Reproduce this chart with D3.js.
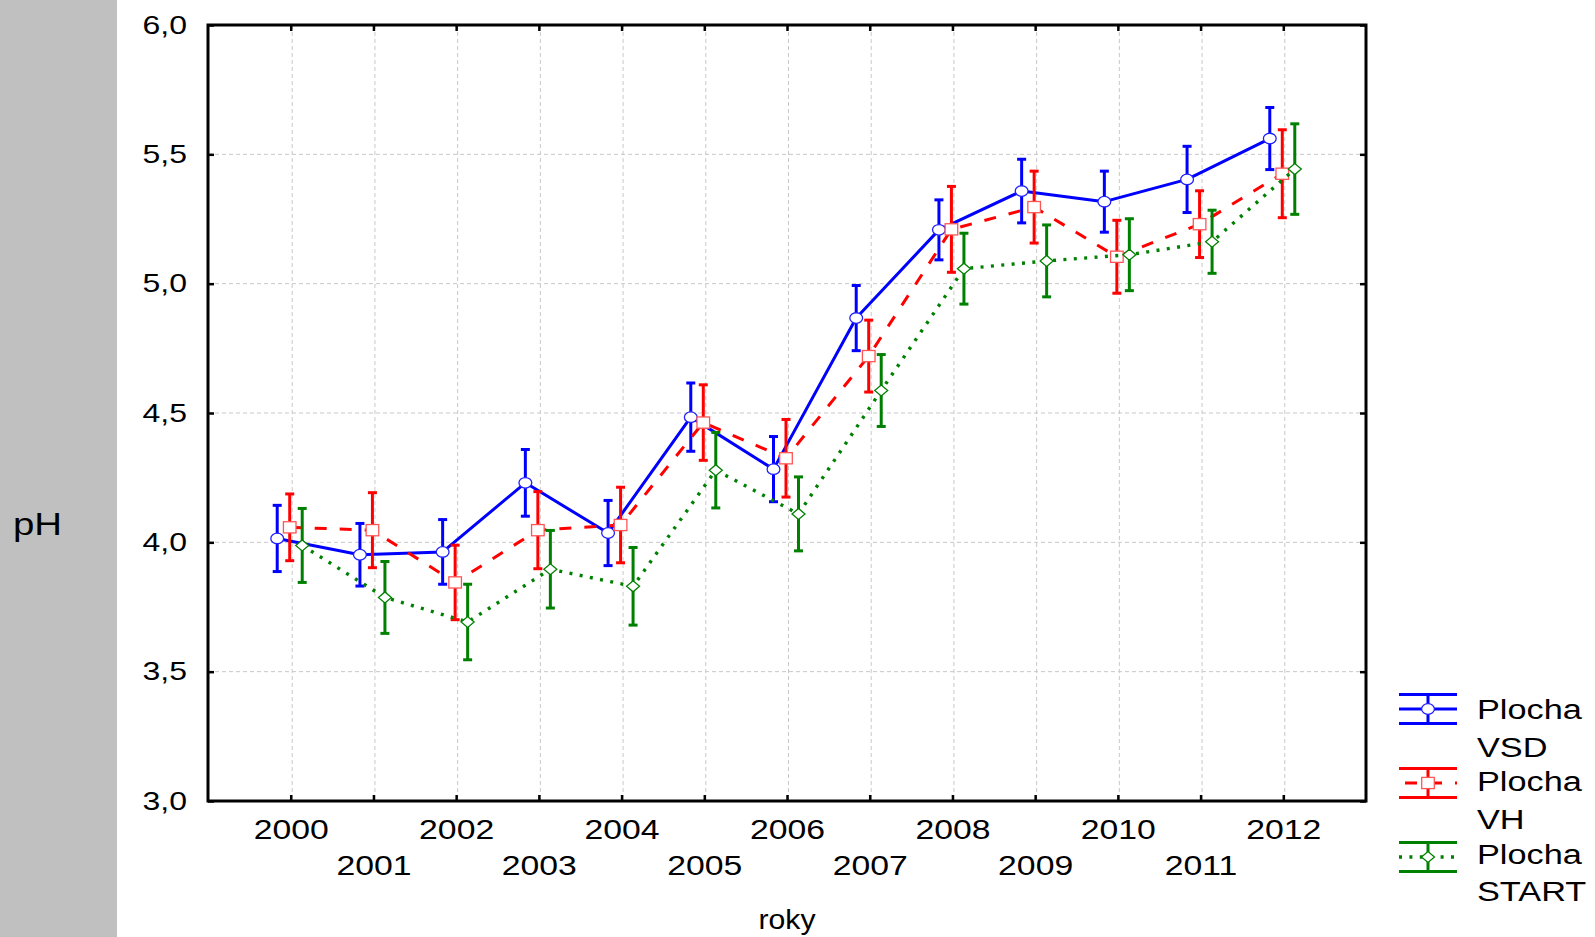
<!DOCTYPE html>
<html>
<head>
<meta charset="utf-8">
<script src="https://cdn.jsdelivr.net/npm/d3@7"></script>
<style>
  html, body { margin: 0; padding: 0; background: #fff; }
  svg { display: block; font-family: "Liberation Sans", Arial, sans-serif; }
</style>
</head>
<body>
<svg id="chart" width="1595" height="937"></svg>
<script>
// Years on the x axis
const years = [2000, 2001, 2002, 2003, 2004, 2005, 2006, 2007, 2008, 2009, 2010, 2011, 2012];

// Mean pH per plot and year, with the half-width of the error bar
const vsdMean = [4.015, 3.952, 3.963, 4.230, 4.036, 4.484, 4.283, 4.867, 5.208, 5.358, 5.317, 5.403, 5.561];
const vsdErr  = [0.128, 0.121, 0.125, 0.129, 0.126, 0.132, 0.126, 0.126, 0.116, 0.123, 0.118, 0.128, 0.120];

const vhMean  = [4.058, 4.047, 3.845, 4.047, 4.067, 4.463, 4.325, 4.720, 5.210, 5.296, 5.104, 5.230, 5.425];
const vhErr   = [0.129, 0.145, 0.144, 0.149, 0.146, 0.146, 0.150, 0.139, 0.166, 0.139, 0.141, 0.129, 0.170];

const startMean = [3.988, 3.787, 3.692, 3.896, 3.830, 4.279, 4.110, 4.587, 5.058, 5.088, 5.112, 5.162, 5.443];
const startErr  = [0.143, 0.139, 0.146, 0.150, 0.150, 0.146, 0.143, 0.139, 0.137, 0.139, 0.139, 0.122, 0.175];

const seriesNames = ["Plocha VSD", "Plocha VH", "Plocha START"];
const yTicks = [3.0, 3.5, 4.0, 4.5, 5.0, 5.5, 6.0];

const series = [
  { name: seriesNames[0], mean: vsdMean,   err: vsdErr,   color: "#0000ff", marker: "#2020ff", shift: -13.5, dash: null,      width: 3,   shape: "circle" },
  { name: seriesNames[1], mean: vhMean,    err: vhErr,    color: "#ff0000", marker: "#ff5555", shift: -1,    dash: "12,13",   width: 3,   shape: "square" },
  { name: seriesNames[2], mean: startMean, err: startErr, color: "#008000", marker: "#008000", shift: 11.5,  dash: "3,7.4",   width: 3.4, shape: "diamond" }
];

const svg = d3.select("#chart");
const W = 1595, H = 937;
const plot = { left: 208, right: 1366, top: 25, bottom: 801 };

const x = d3.scaleLinear().domain([1999, 2013]).range([plot.left, plot.right]);
const y = d3.scaleLinear().domain([3, 6]).range([plot.bottom, plot.top]);
const fmt = d => d.toFixed(1).replace(".", ",");

// page background and grey side band
svg.append("rect").attr("width", W).attr("height", H).attr("fill", "#fff");
svg.append("rect").attr("x", 0).attr("y", 0).attr("width", 117).attr("height", H).attr("fill", "#c0c0c0");

// grid
const grid = svg.append("g").attr("stroke", "#c8c8c8").attr("stroke-width", 1).attr("stroke-dasharray", "4,3");
grid.selectAll("line.v").data(years).join("line")
  .attr("x1", d => x(d) + 1.5).attr("x2", d => x(d) + 1.5)
  .attr("y1", plot.top).attr("y2", plot.bottom);
grid.selectAll("line.h").data(yTicks.slice(1, -1)).join("line")
  .attr("x1", plot.left).attr("x2", plot.right)
  .attr("y1", d => y(d)).attr("y2", d => y(d));

// axes with inward ticks
const SX = 1.28;
const gl = svg.append("g").attr("transform", `translate(${plot.left},0)`)
  .call(d3.axisLeft(y).tickValues(yTicks).tickFormat(fmt).tickSize(-6).tickPadding(21));
gl.select(".domain").remove();
gl.selectAll(".tick line").attr("stroke", "#000").attr("stroke-width", 2.5);
gl.selectAll(".tick text")
  .attr("x", -21 / SX).attr("transform", `scale(${SX},1)`)
  .attr("font-size", 25).attr("fill", "#000")
  .attr("font-family", "Liberation Sans, Arial, sans-serif");

const gr = svg.append("g").attr("transform", `translate(${plot.right},0)`)
  .call(d3.axisRight(y).tickValues(yTicks).tickFormat("").tickSize(-6));
gr.select(".domain").remove();
gr.selectAll(".tick line").attr("stroke", "#000").attr("stroke-width", 2.5);

const XS = 1.25;
const gb = svg.append("g").attr("transform", `translate(0,${plot.bottom})`)
  .call(d3.axisBottom(x).tickValues(years).tickFormat(d3.format("d")).tickSize(-6));
gb.select(".domain").remove();
gb.selectAll(".tick line").attr("stroke", "#000").attr("stroke-width", 2.5);
gb.selectAll(".tick text")
  .attr("y", (d, i) => (i % 2 === 0 ? 38 : 74)).attr("dy", 0)
  .attr("transform", `scale(${XS},1)`)
  .attr("font-size", 27).attr("fill", "#000")
  .attr("font-family", "Liberation Sans, Arial, sans-serif");

const gt = svg.append("g").attr("transform", `translate(0,${plot.top})`)
  .call(d3.axisTop(x).tickValues(years).tickFormat("").tickSize(-6));
gt.select(".domain").remove();
gt.selectAll(".tick line").attr("stroke", "#000").attr("stroke-width", 2.5);

// frame
svg.append("rect")
  .attr("x", plot.left).attr("y", plot.top)
  .attr("width", plot.right - plot.left).attr("height", plot.bottom - plot.top)
  .attr("fill", "none").attr("stroke", "#000").attr("stroke-width", 3);

// stretched text helper
function label(g, txt, tx, ty, size, sx, anchor) {
  g.append("g").attr("transform", `translate(${tx},${ty}) scale(${sx},1)`)
    .append("text").attr("text-anchor", anchor || "start")
    .attr("font-size", size).attr("fill", "#000").text(txt);
}

// axis titles
label(svg, "pH", 13, 535, 32, 1.2, "start");
label(svg, "roky", 787, 929, 27, 1.12, "middle");

// marker drawing
function drawMarker(g, shape, cx, cy, stroke) {
  if (shape === "circle") {
    g.append("ellipse").attr("cx", cx).attr("cy", cy).attr("rx", 6.4).attr("ry", 5.3)
      .attr("fill", "#fff").attr("stroke", stroke).attr("stroke-width", 1.3);
  } else if (shape === "square") {
    g.append("rect").attr("x", cx - 6.3).attr("y", cy - 5.6).attr("width", 12.6).attr("height", 11.2)
      .attr("fill", "#fff").attr("stroke", stroke).attr("stroke-width", 1.3);
  } else {
    g.append("path").attr("d", `M${cx - 6.5},${cy} L${cx},${cy - 5.5} L${cx + 6.5},${cy} L${cx},${cy + 5.5} Z`)
      .attr("fill", "#fff").attr("stroke", stroke).attr("stroke-width", 1.3);
  }
}

// series: connecting line, error bars, markers
series.forEach(s => {
  const g = svg.append("g");
  const pts = years.map((yr, i) => [x(yr) + s.shift, y(s.mean[i])]);
  const line = g.append("path").attr("d", d3.line()(pts))
    .attr("fill", "none").attr("stroke", s.color).attr("stroke-width", s.width)
    .attr("stroke-linejoin", "round");
  if (s.dash) line.attr("stroke-dasharray", s.dash);

  years.forEach((yr, i) => {
    const cx = x(yr) + s.shift;
    const y1 = y(s.mean[i] + s.err[i]), y2 = y(s.mean[i] - s.err[i]);
    g.append("line").attr("x1", cx).attr("x2", cx).attr("y1", y1).attr("y2", y2)
      .attr("stroke", s.color).attr("stroke-width", 3);
    [y1, y2].forEach(yy => g.append("line")
      .attr("x1", cx - 4.5).attr("x2", cx + 4.5).attr("y1", yy).attr("y2", yy)
      .attr("stroke", s.color).attr("stroke-width", 3));
  });
  years.forEach((yr, i) => drawMarker(g, s.shape, x(yr) + s.shift, y(s.mean[i]), s.marker));
});

// legend
const lg = svg.append("g");
const legX0 = 1399, legX1 = 1457, legXc = 1428;
const legMid = [709, 783, 857];
const legText1 = [719, 791, 864];
const legText2 = [757, 829, 901];
series.forEach((s, i) => {
  const m = legMid[i];
  [m - 14.5, m + 14.5].forEach(yy => lg.append("line")
    .attr("x1", legX0).attr("x2", legX1).attr("y1", yy).attr("y2", yy)
    .attr("stroke", s.color).attr("stroke-width", 3));
  lg.append("line").attr("x1", legXc).attr("x2", legXc).attr("y1", m - 14.5).attr("y2", m + 14.5)
    .attr("stroke", s.color).attr("stroke-width", 3);
  const mid = lg.append("line").attr("x1", legX0).attr("x2", legX1).attr("y1", m).attr("y2", m)
    .attr("stroke", s.color).attr("stroke-width", s.width);
  if (s.dash) mid.attr("stroke-dasharray", s.dash).attr("stroke-dashoffset", s.shape === "square" ? 19 : 0);
  drawMarker(lg, s.shape, legXc, m, s.marker);
  const parts = s.name.split(" ");
  label(lg, parts[0], 1477, legText1[i], 27, 1.27, "start");
  label(lg, parts[1], 1477, legText2[i], 27, 1.27, "start");
});
</script>
</body>
</html>
